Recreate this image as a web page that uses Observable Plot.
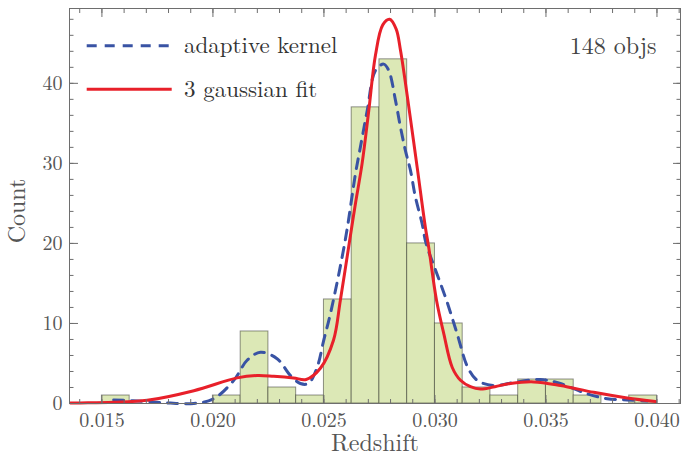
<!DOCTYPE html>
<html>
<head>
<meta charset="utf-8">
<script src="https://cdn.jsdelivr.net/npm/d3@7"></script>
<script src="https://cdn.jsdelivr.net/npm/@observablehq/plot@0.6"></script>
<style>
  body { margin: 0; background: #fff; }
  #wrap { position: relative; width: 681px; height: 456px; font-family: "Latin Modern Roman"; }
  #legend { position: absolute; left: 0; top: 0; pointer-events: none; }
  #wrap svg text { font-family: "Latin Modern Roman"; }
</style>
</head>
<body>
<div id="wrap"></div>
<script>
// Histogram bins (redshift) and counts
const binStarts = [0.015, 0.01625, 0.0175, 0.01875, 0.020, 0.02125, 0.0225, 0.02375, 0.025, 0.02625,
                   0.0275, 0.02875, 0.030, 0.03125, 0.0325, 0.03375, 0.035, 0.03625, 0.0375, 0.03875];
const binWidth = 0.00125;
const counts = [1, 0, 0, 0, 1, 9, 2, 1, 13, 37, 43, 20, 10, 2, 1, 3, 3, 1, 0, 1];

// 3 gaussian fit (red)
const fitX = [0.01358, 0.01403, 0.01552, 0.01704, 0.01914, 0.02109, 0.02199, 0.02274, 0.02363, 0.02420,
              0.02484, 0.02543, 0.02574, 0.02616, 0.02642, 0.02672, 0.02702, 0.02732, 0.02765, 0.02796,
              0.02825, 0.02845, 0.02880, 0.02920, 0.02957, 0.02972, 0.03007, 0.03040, 0.03078, 0.03115,
              0.03160, 0.03205, 0.03270, 0.03340, 0.03445, 0.03565, 0.03715, 0.03866, 0.03993];
const fitY = [0.05, 0.07, 0.15, 0.4, 1.6, 3.2, 3.5, 3.4, 3.2, 3.0,
              4.4, 7.9, 12.9, 20.4, 25.0, 30.0, 36.6, 43.5, 47.3, 48.0,
              46.8, 44.1, 37.5, 29.5, 22.0, 19.5, 12.9, 8.7, 4.5, 2.9,
              2.1, 1.8, 2.1, 2.5, 2.7, 2.25, 1.4, 0.7, 0.25];

// adaptive kernel (blue dashed)
const kernX = [0.01553, 0.01704, 0.01809, 0.01914, 0.02004, 0.02094, 0.02154, 0.02214, 0.02289, 0.02349,
               0.02394, 0.02430, 0.02469, 0.02499, 0.02529, 0.02596, 0.02642, 0.02664, 0.02695, 0.02732,
               0.02769, 0.02792, 0.02822, 0.02845, 0.02867, 0.02890, 0.02912, 0.02942, 0.02960, 0.03005,
               0.03052, 0.03100, 0.03148, 0.03190, 0.03265, 0.03370, 0.03475, 0.03565, 0.03686, 0.03776,
               0.03866, 0.03956];
const kernY = [0.45, 0.25, 0.05, 0.0, 0.6, 2.9, 5.4, 6.4, 5.6, 3.5,
               2.5, 2.5, 4.5, 7.9, 11.2, 20.4, 28.7, 32.0, 36.6, 41.6,
               42.4, 41.6, 37.9, 34.5, 31.6, 29.1, 25.8, 22.5, 20.0, 16.5,
               12.9, 8.7, 4.5, 2.9, 2.25, 2.7, 3.0, 2.5, 1.2, 0.6,
               0.45, 0.3];

// Ticks
const xMajorTicks = [0.015, 0.020, 0.025, 0.030, 0.035, 0.040];
const xMinorTicks = [0.014, 0.015, 0.016, 0.017, 0.018, 0.019, 0.020, 0.021, 0.022, 0.023, 0.024, 0.025, 0.026, 0.027,
                     0.028, 0.029, 0.030, 0.031, 0.032, 0.033, 0.034, 0.035, 0.036, 0.037, 0.038, 0.039, 0.040, 0.041];
const yMajorTicks = [0, 10, 20, 30, 40];
const yMinorTicks = [0, 2, 4, 6, 8, 10, 12, 14, 16, 18, 20, 22, 24, 26, 28, 30, 32, 34, 36, 38, 40, 42, 44, 46, 48];

const xLabel = "Redshift";
const yLabel = "Count";
const legendLabels = ["adaptive kernel", "3 gaussian fit"];
const noteLabel = "148 objs";

const bins = binStarts.map((s, i) => ({x1: s, x2: s + binWidth, count: counts[i]}));
const fit = fitX.map((x, i) => ({x, y: fitY[i]}));
const kern = kernX.map((x, i) => ({x, y: kernY[i]}));

const FONT = '"Latin Modern Roman"';
const tickColor = "#6e6e6e";
const textColor = "#555";
const noLabel = () => "";

const chart = Plot.plot({
  width: 681,
  height: 456,
  marginLeft: 69,
  marginRight: 1,
  marginTop: 8,
  marginBottom: 53,
  x: {domain: [0.01354, 0.04106]},
  y: {domain: [0, 49.35]},
  style: {fontFamily: FONT, fontSize: "20px", color: textColor, background: "white"},
  marks: [
    Plot.rect(bins, {x1: "x1", x2: "x2", y1: 0, y2: "count", fill: "#dce8b6", stroke: "#000", strokeOpacity: 0.42, strokeWidth: 1, inset: 0}),
    Plot.line(kern, {x: "x", y: "y", stroke: "#3953a4", strokeWidth: 3, strokeDasharray: "10,8", curve: "catmull-rom"}),
    Plot.line(fit, {x: "x", y: "y", stroke: "#e8202a", strokeWidth: 3, curve: "catmull-rom"}),
    Plot.frame({stroke: tickColor}),
    Plot.axisX({anchor: "bottom", ticks: xMinorTicks, tickFormat: noLabel, tickSize: -4, label: null, color: tickColor}),
    Plot.axisX({anchor: "bottom", ticks: xMajorTicks, tickFormat: d3.format(".3f"), tickSize: -8, tickPadding: 17, label: null, color: tickColor, fill: textColor, fontFamily: FONT}),
    Plot.axisX({anchor: "top", ticks: xMinorTicks, tickFormat: noLabel, tickSize: -4, label: null, color: tickColor}),
    Plot.axisX({anchor: "top", ticks: xMajorTicks, tickFormat: noLabel, tickSize: -8, label: null, color: tickColor}),
    Plot.axisY({anchor: "left", ticks: yMinorTicks, tickFormat: noLabel, tickSize: -4.5, label: null, color: tickColor}),
    Plot.axisY({anchor: "left", ticks: yMajorTicks, tickFormat: d3.format("d"), tickSize: -9, tickPadding: 16, label: null, color: tickColor, fill: textColor, fontFamily: FONT}),
    Plot.axisY({anchor: "right", ticks: yMinorTicks, tickFormat: noLabel, tickSize: -4.5, label: null, color: tickColor}),
    Plot.axisY({anchor: "right", ticks: yMajorTicks, tickFormat: noLabel, tickSize: -8, label: null, color: tickColor}),
    Plot.text([xLabel], {text: d => d, frameAnchor: "bottom", dy: 40, lineAnchor: "middle", fontSize: 24, fill: textColor, fontFamily: FONT}),
    Plot.text([noteLabel], {text: d => d, frameAnchor: "top-right", textAnchor: "end", lineAnchor: "top", dx: -24, dy: 28, fontSize: 24, fill: "#444", fontFamily: FONT})
  ]
});

const wrap = document.getElementById("wrap");
wrap.appendChild(chart);

// Overlay: legend and y-axis title
const ns = "http://www.w3.org/2000/svg";
const leg = document.createElementNS(ns, "svg");
leg.setAttribute("id", "legend");
leg.setAttribute("width", 681);
leg.setAttribute("height", 456);

const yt = document.createElementNS(ns, "text");
yt.setAttribute("transform", "translate(25,211) rotate(-90)");
yt.setAttribute("text-anchor", "middle");
yt.setAttribute("font-size", 24);
yt.setAttribute("fill", textColor);
yt.setAttribute("font-family", "Latin Modern Roman");
yt.textContent = yLabel;
leg.appendChild(yt);

const legendItems = [
  {label: legendLabels[0], color: "#3953a4", dash: "10,8", y: 45.7},
  {label: legendLabels[1], color: "#e8202a", dash: null, y: 89.3}
];
legendItems.forEach(it => {
  const ln = document.createElementNS(ns, "line");
  ln.setAttribute("x1", 86.7); ln.setAttribute("x2", 171.7);
  ln.setAttribute("y1", it.y); ln.setAttribute("y2", it.y);
  ln.setAttribute("stroke", it.color);
  ln.setAttribute("stroke-width", 3);
  if (it.dash) ln.setAttribute("stroke-dasharray", it.dash);
  leg.appendChild(ln);
  const tx = document.createElementNS(ns, "text");
  tx.setAttribute("x", 184);
  tx.setAttribute("y", it.y + 7.5);
  tx.setAttribute("font-size", 23);
  tx.setAttribute("fill", "#333");
  tx.setAttribute("font-family", "Latin Modern Roman");
  tx.textContent = it.label;
  leg.appendChild(tx);
});
wrap.appendChild(leg);
</script>
</body>
</html>
